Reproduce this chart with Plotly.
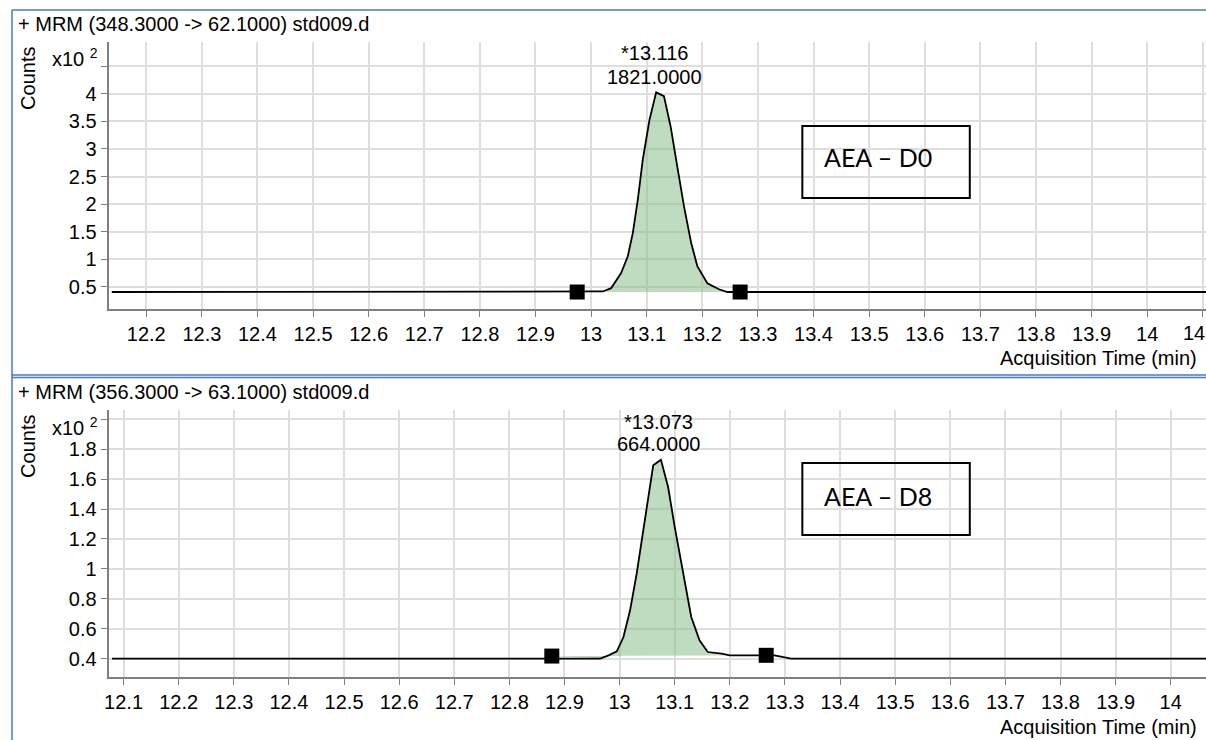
import plotly.graph_objects as go

# ---------------- data (counts shown in units of x10^2) ----------------
top_time = [12.138, 13.021, 13.036, 13.054, 13.066, 13.075, 13.084, 13.093, 13.105,
            13.117, 13.131, 13.143, 13.155, 13.167, 13.180, 13.191, 13.209, 13.230,
            13.245, 14.2]
top_counts = [0.40, 0.41, 0.47, 0.745, 1.05, 1.47, 2.08, 2.81, 3.53,
              4.03, 3.96, 3.41, 2.68, 1.96, 1.29, 0.87, 0.56, 0.45,
              0.40, 0.40]
top_marker_time = [12.975, 13.268]
top_marker_counts = [0.40, 0.40]

bot_time = [12.079, 12.965, 12.980, 12.995, 13.007, 13.019, 13.031, 13.043, 13.052,
            13.061, 13.075, 13.088, 13.100, 13.115, 13.130, 13.145, 13.160, 13.185,
            13.200, 13.281, 13.299, 13.311, 14.2]
bot_counts = [0.40, 0.40, 0.422, 0.449, 0.544, 0.723, 0.968, 1.258, 1.48,
              1.692, 1.73, 1.547, 1.28, 0.968, 0.678, 0.522, 0.444, 0.433,
              0.422, 0.422, 0.41, 0.40, 0.40]
bot_marker_time = [12.877, 13.266]
bot_marker_counts = [0.417, 0.422]

top_title = "+ MRM (348.3000 -> 62.1000) std009.d"
bot_title = "+ MRM (356.3000 -> 63.1000) std009.d"
top_peak_rt = "*13.116"
top_peak_val = "1821.0000"
bot_peak_rt = "*13.073"
bot_peak_val = "664.0000"
top_box = "AEA – D0"
bot_box = "AEA – D8"
x_title = "Acquisition Time (min)"
y_title = "Counts"
top_last_xlabel_visible = "14"   # the 14.1 label is cut by the window edge

top_xtickvals = [12.2, 12.3, 12.4, 12.5, 12.6, 12.7, 12.8, 12.9, 13.0, 13.1,
                 13.2, 13.3, 13.4, 13.5, 13.6, 13.7, 13.8, 13.9, 14.0]
top_xticktext = ["12.2", "12.3", "12.4", "12.5", "12.6", "12.7", "12.8", "12.9", "13", "13.1",
                 "13.2", "13.3", "13.4", "13.5", "13.6", "13.7", "13.8", "13.9", "14"]
top_xminor = [14.1]
bot_xtickvals = [12.1, 12.2, 12.3, 12.4, 12.5, 12.6, 12.7, 12.8, 12.9, 13.0,
                 13.1, 13.2, 13.3, 13.4, 13.5, 13.6, 13.7, 13.8, 13.9, 14.0]
bot_xticktext = ["12.1", "12.2", "12.3", "12.4", "12.5", "12.6", "12.7", "12.8", "12.9", "13",
                 "13.1", "13.2", "13.3", "13.4", "13.5", "13.6", "13.7", "13.8", "13.9", "14"]

top_ytickvals = [0.5, 1, 1.5, 2, 2.5, 3, 3.5, 4]
top_yticktext = ["0.5", "1", "1.5", "2", "2.5", "3", "3.5", "4"]
top_yminor = [4.5]
bot_ytickvals = [0.4, 0.6, 0.8, 1.0, 1.2, 1.4, 1.6, 1.8]
bot_yticktext = ["0.4", "0.6", "0.8", "1", "1.2", "1.4", "1.6", "1.8"]
bot_yminor = [2.0]

# ---------------- layout helpers ----------------
W, H = 1206, 740
def px(x):
    return x / W
def py(y):
    return 1 - y / H

FONT = "Liberation Sans, Arial, sans-serif"
FS = 20
LINE = "black"
FILL = "rgba(130,185,130,0.5)"
GRID = "#dedede"
AXC = "#808080"

def fill_polygon(t, c, mt, mc):
    xs = [mt[0]] + [a for a in t if mt[0] < a < mt[1]] + [mt[1]]
    ys = [mc[0]] + [b for a, b in zip(t, c) if mt[0] < a < mt[1]] + [mc[1]]
    return xs, ys

fig = go.Figure()

for (t, c, mt, mc, xa, ya) in [
    (top_time, top_counts, top_marker_time, top_marker_counts, "x", "y"),
    (bot_time, bot_counts, bot_marker_time, bot_marker_counts, "x2", "y2"),
]:
    fx, fy = fill_polygon(t, c, mt, mc)
    fig.add_trace(go.Scatter(x=fx, y=fy, mode="lines", fill="toself",
                             fillcolor=FILL, line=dict(width=0),
                             xaxis=xa, yaxis=ya, hoverinfo="skip"))
    fig.add_trace(go.Scatter(x=t, y=c, mode="lines",
                             line=dict(color=LINE, width=1.8),
                             xaxis=xa, yaxis=ya))
    fig.add_trace(go.Scatter(x=mt, y=mc, mode="markers",
                             marker=dict(symbol="square", size=15, color="black"),
                             xaxis=xa, yaxis=ya))

axis_common = dict(
    showline=True, linecolor=AXC, linewidth=2,
    ticks="outside", ticklen=6, tickwidth=1, tickcolor=AXC,
    showgrid=True, gridcolor=GRID, gridwidth=2,
    zeroline=False,
    tickfont=dict(family=FONT, size=FS, color="black"),
)
def minor(vals):
    return dict(tickvals=vals, ticks="outside", ticklen=6, tickwidth=1, tickcolor=AXC,
                showgrid=True, gridcolor=GRID, gridwidth=2)

fig.update_layout(
    width=W, height=H,
    margin=dict(l=0, r=0, t=0, b=0),
    paper_bgcolor="white", plot_bgcolor="white",
    showlegend=False,
    xaxis=dict(domain=[px(105), 1], range=[12.1324, 14.1058], anchor="y",
               tickvals=top_xtickvals, ticktext=top_xticktext,
               minor=minor(top_xminor), **axis_common),
    yaxis=dict(domain=[py(309), py(42)], range=[0.0913, 4.945], anchor="x",
               tickvals=top_ytickvals, ticktext=top_yticktext,
               minor=minor(top_yminor), **axis_common),
    xaxis2=dict(domain=[px(105), 1], range=[12.0729, 14.064], anchor="y2",
                tickvals=bot_xtickvals, ticktext=bot_xticktext, **axis_common),
    yaxis2=dict(domain=[py(677), py(410)], range=[0.277, 2.062], anchor="x2",
                tickvals=bot_ytickvals, ticktext=bot_yticktext,
                minor=minor(bot_yminor), **axis_common),
)

ann = []
def text(x, y, s, xanchor="left", size=FS, family=FONT, angle=0):
    ann.append(dict(x=px(x), y=py(y), xref="paper", yref="paper", text=s,
                    showarrow=False, xanchor=xanchor, yanchor="middle",
                    textangle=angle, font=dict(family=family, size=size, color="black")))

# panel titles
text(12, 24, top_title)
text(12, 392, bot_title)
# counts labels and exponent
text(24, 78, y_title, xanchor="center", angle=-90)
text(24, 446, y_title, xanchor="center", angle=-90)
text(96, 58, "x10 <sup>2</sup>", xanchor="right")
text(96, 426, "x10 <sup>2</sup>", xanchor="right")
# x axis titles
text(1199, 358, x_title, xanchor="right")
text(1199, 727, x_title, xanchor="right")
# visible part of the cut-off last tick label (top panel)
text(1181, 333, top_last_xlabel_visible)
# peak labels
text(653, 53, top_peak_rt, xanchor="center")
text(653, 77, top_peak_val, xanchor="center")
text(657, 422, bot_peak_rt, xanchor="center")
text(657, 444, bot_peak_val, xanchor="center")
# boxed compound labels
text(821, 157, top_box, family="Lato, Carlito, sans-serif", size=25)
text(821, 496, bot_box, family="Lato, Carlito, sans-serif", size=25)

fig.update_layout(annotations=ann)

shapes = []
# boxes
for (y0, y1) in [(126, 198), (463, 535)]:
    shapes.append(dict(type="rect", xref="paper", yref="paper",
                       x0=px(801), x1=px(969), y0=py(y1), y1=py(y0),
                       line=dict(color="black", width=2), fillcolor="rgba(255,255,255,0)"))
# blue frame
BLUE = "#4a78c8"
shapes.append(dict(type="line", xref="paper", yref="paper", x0=px(8), x1=1, y0=py(10), y1=py(10),
                   line=dict(color=BLUE, width=1.5)))
shapes.append(dict(type="line", xref="paper", yref="paper", x0=px(8), x1=px(8), y0=py(10), y1=0,
                   line=dict(color=BLUE, width=1.5)))
shapes.append(dict(type="line", xref="paper", yref="paper", x0=px(8), x1=1, y0=py(375), y1=py(375),
                   line=dict(color=BLUE, width=1.5)))
shapes.append(dict(type="line", xref="paper", yref="paper", x0=px(8), x1=1, y0=py(377.5), y1=py(377.5),
                   line=dict(color=BLUE, width=1.5)))
fig.update_layout(shapes=shapes)

page_js = (
    "document.body.style.margin='0';document.body.style.overflow='hidden';"
    "var st=document.createElement('style');"
    "st.innerHTML='.modebar-container{display:none !important;}';"
    "document.head.appendChild(st);"
)

fig.write_html("out.html", post_script=page_js)
